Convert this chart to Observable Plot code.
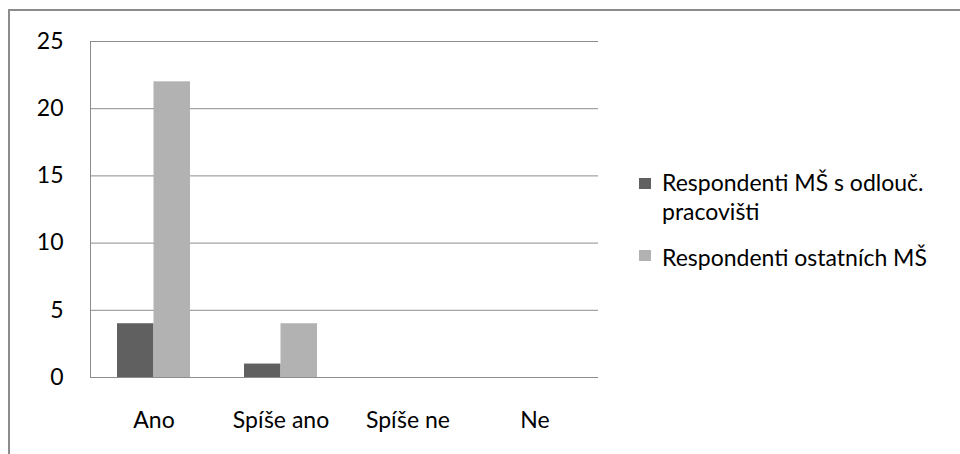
<!DOCTYPE html>
<html><head><meta charset="utf-8">
<script src="https://cdn.jsdelivr.net/npm/d3@7"></script>
<script src="https://cdn.jsdelivr.net/npm/@observablehq/plot@0.6"></script>
<style>
body{margin:0;background:#fff;}
#wrap{position:relative;width:960px;height:454px;overflow:hidden;font-family:Lato,"Open Sans",sans-serif;color:#000;}
#frame{position:absolute;left:8px;top:9px;width:970px;height:470px;border-top:2px solid #8c8c8c;border-left:2px solid #8c8c8c;pointer-events:none;}
#chart{position:absolute;left:0;top:0;}
.leg{position:absolute;font-size:23px;line-height:29px;}
.sw{position:absolute;width:12px;height:11px;}
</style></head>
<body><div id="wrap"><div id="chart"></div><div id="frame"></div><div id="legend"></div></div>
<script>
const categories = ["Ano", "Spíše ano", "Spíše ne", "Ne"];
const seriesNames = ["Respondenti MŠ s odlouč. pracovišti", "Respondenti ostatních MŠ"];
const seriesA = [4, 1, 0, 0];
const seriesB = [22, 4, 0, 0];
const yTicks = [0, 5, 10, 15, 20, 25];
const colors = ["#606060", "#b2b2b2"];

const dataA = categories.map((c, i) => ({cat: c, value: seriesA[i]}));
const dataB = categories.map((c, i) => ({cat: c, value: seriesB[i]}));

const fs = 23;
const plot = Plot.plot({
  width: 960, height: 454,
  marginLeft: 90, marginRight: 362, marginTop: 41, marginBottom: 77,
  style: {fontFamily: "Lato, 'Open Sans', sans-serif", fontSize: fs + "px", color: "#000", background: "transparent"},
  x: {type: "band", domain: categories, padding: 0, label: null},
  y: {domain: [0, 25], label: null},
  marks: [
    Plot.gridY(yTicks.filter(d => d > 0), {stroke: "#8c8c8c", strokeOpacity: 1}),
    Plot.barY(dataA, {x: "cat", y: "value", fill: colors[0], insetLeft: 45.25, insetRight: 45.25, dx: -18.25}),
    Plot.barY(dataB, {x: "cat", y: "value", fill: colors[1], insetLeft: 45.25, insetRight: 45.25, dx: 18.25}),
    Plot.ruleY([0], {stroke: "#8c8c8c"}),
    Plot.frame({anchor: "left", stroke: "#8c8c8c"}),
    Plot.axisY(yTicks, {tickSize: 0, tickPadding: 27, fontSize: fs, tickFormat: d => String(d), label: null}),
    Plot.axisX({tickSize: 0, tickPadding: 34, fontSize: fs, label: null})
  ]
});
document.getElementById("chart").appendChild(plot);

const legend = document.getElementById("legend");
const legendItems = [
  {lines: ["Respondenti MŠ s odlouč.", "pracovišti"], color: colors[0], top: 168, sq: 178},
  {lines: ["Respondenti ostatních MŠ"], color: colors[1], top: 243, sq: 250}
];
legendItems.forEach(it => {
  const sw = document.createElement("div");
  sw.className = "sw"; sw.style.left = "639px"; sw.style.top = it.sq + "px"; sw.style.background = it.color;
  legend.appendChild(sw);
  const t = document.createElement("div");
  t.className = "leg"; t.style.left = "662px"; t.style.top = it.top + "px";
  t.innerHTML = it.lines.join("<br>");
  legend.appendChild(t);
});
</script></body></html>
